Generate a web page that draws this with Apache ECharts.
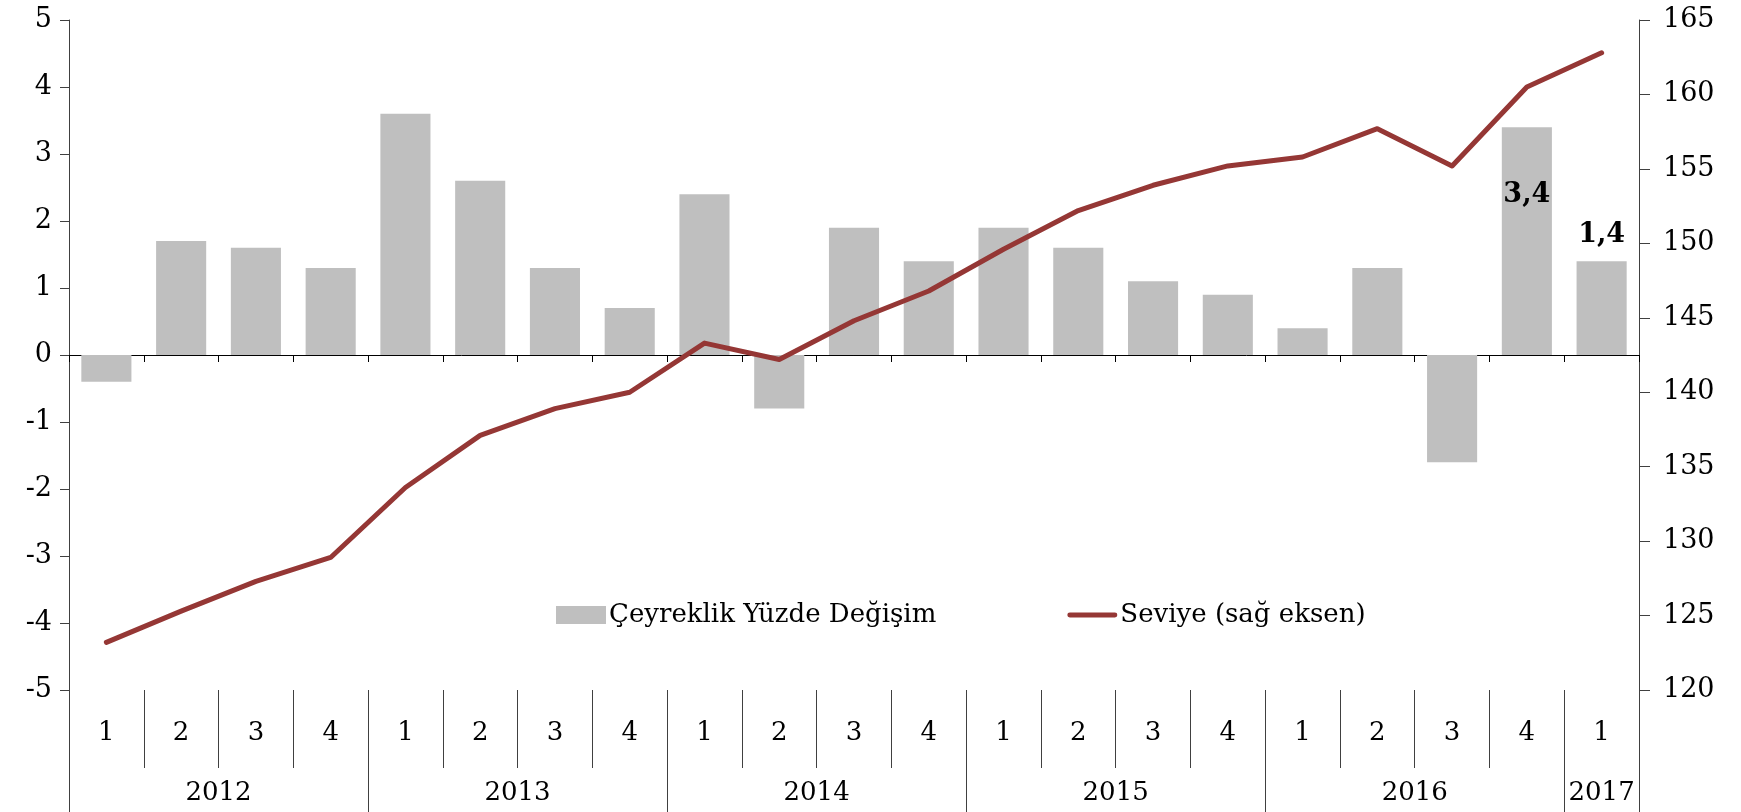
<!DOCTYPE html>
<html>
<head>
<meta charset="utf-8">
<script src="https://cdn.jsdelivr.net/npm/echarts@6/dist/echarts.min.js"></script>
<style>
  html, body { margin: 0; padding: 0; background: #fff; }
  #chart { width: 1741px; height: 812px; }
</style>
</head>
<body>
<div id="chart"></div>
<script>
// çeyrekler ve yıllar
var quarters = ["1", "2", "3", "4", "1", "2", "3", "4", "1", "2", "3", "4",
  "1", "2", "3", "4", "1", "2", "3", "4", "1"];
var years = ["2012", "2013", "2014", "2015", "2016", "2017"];
var quartersPerYear = [4, 4, 4, 4, 4, 1];

// Çeyreklik yüzde değişim (sol eksen)
var degisim = [-0.4, 1.7, 1.6, 1.3, 3.6, 2.6, 1.3, 0.7, 2.4, -0.8, 1.9,
  1.4, 1.9, 1.6, 1.1, 0.9, 0.4, 1.3, -1.6, 3.4, 1.4];
// Seviye (sağ eksen)
var seviye = [123.2, 125.3, 127.3, 128.9, 133.6, 137.1, 138.9, 140.0, 143.3,
  142.2, 144.8, 146.8, 149.6, 152.2, 153.9, 155.2, 155.8, 157.7, 155.2,
  160.5, 162.8];

var leftTicks = { min: -5, max: 5, interval: 1 };
var rightTicks = { min: 120, max: 165, interval: 5 };

// yıl sınırları ve ortaları
var yearBounds = [0];
var yearCenters = [];
var centerToYear = {};
for (var i = 0; i < years.length; i++) {
  var start = yearBounds[yearBounds.length - 1];
  var c = start + quartersPerYear[i] / 2;
  yearCenters.push(c);
  centerToYear[c] = years[i];
  yearBounds.push(start + quartersPerYear[i]);
}

var FONT = "DejaVu Serif";
var AXIS_COLOR = "#404040";
var LINE_COLOR = "#953735";
var n = quarters.length;

// sadece son iki değerde etiket var
var barData = degisim.map(function (v, idx) {
  if (idx === n - 2) {
    return { value: v, label: { show: true, position: "insideTop", distance: 54 } };
  }
  if (idx === n - 1) {
    return { value: v, label: { show: true, position: "top", distance: 13 } };
  }
  return v;
});

var chart = echarts.init(document.getElementById("chart"));
var option = {
  animation: false,
  backgroundColor: "#fff",
  textStyle: { fontFamily: FONT, color: "#000" },
  grid: { left: 69, right: 102, top: 20, bottom: 122, containLabel: false },
  legend: {
    left: 551,
    top: 597,
    itemWidth: 50,
    itemHeight: 18,
    itemGap: 131,
    textStyle: { fontFamily: FONT, fontSize: 26, color: "#000", padding: [0, 0, 0, -2] },
    data: [
      { name: "Çeyreklik Yüzde Değişim", icon: "rect" },
      { name: "Seviye (sağ eksen)", icon: "path://M2,0 L48,0 A2.5,2.5 0 0 1 48,5 L2,5 A2.5,2.5 0 0 1 2,0 Z" }
    ]
  },
  xAxis: [
    {
      type: "category",
      data: quarters,
      axisLine: { onZero: true, lineStyle: { color: "#000", width: 1 } },
      axisTick: { show: true, length: 7, lineStyle: { color: "#000" } },
      axisLabel: { show: false },
      splitLine: { show: false }
    },
    {
      type: "category",
      data: quarters,
      position: "bottom",
      axisLine: { show: false, onZero: false },
      axisTick: { show: true, length: 78, lineStyle: { color: AXIS_COLOR } },
      axisLabel: { show: true, margin: 30, fontFamily: FONT, fontSize: 26, color: "#000" },
      splitLine: { show: false }
    },
    {
      type: "value",
      min: 0,
      max: n,
      position: "bottom",
      axisLine: { show: false, onZero: false },
      axisTick: { show: true, length: 122, customValues: yearBounds, lineStyle: { color: AXIS_COLOR } },
      axisLabel: {
        show: true,
        margin: 90,
        fontFamily: FONT,
        fontSize: 26,
        color: "#000",
        customValues: yearCenters,
        formatter: function (v) { return centerToYear[v] || ""; }
      },
      splitLine: { show: false }
    }
  ],
  yAxis: [
    {
      type: "value",
      position: "left",
      min: leftTicks.min,
      max: leftTicks.max,
      interval: leftTicks.interval,
      axisLine: { show: true, lineStyle: { color: AXIS_COLOR } },
      axisTick: { show: true, length: 9, lineStyle: { color: AXIS_COLOR } },
      axisLabel: { margin: 17, fontFamily: FONT, fontSize: 27, color: "#000" },
      splitLine: { show: false }
    },
    {
      type: "value",
      position: "right",
      min: rightTicks.min,
      max: rightTicks.max,
      interval: rightTicks.interval,
      axisLine: { show: true, lineStyle: { color: AXIS_COLOR } },
      axisTick: { show: true, length: 11, lineStyle: { color: AXIS_COLOR } },
      axisLabel: { margin: 24, fontFamily: FONT, fontSize: 27, color: "#000" },
      splitLine: { show: false }
    }
  ],
  series: [
    {
      name: "Çeyreklik Yüzde Değişim",
      type: "bar",
      xAxisIndex: 0,
      yAxisIndex: 0,
      barWidth: "67%",
      itemStyle: { color: "#BFBFBF" },
      label: {
        show: false,
        fontFamily: FONT,
        fontSize: 27,
        fontWeight: "bold",
        color: "#000",
        formatter: function (p) { return String(p.value).replace(".", ","); }
      },
      data: barData
    },
    {
      name: "Seviye (sağ eksen)",
      type: "line",
      xAxisIndex: 0,
      yAxisIndex: 1,
      symbol: "none",
      z: 5,
      lineStyle: { color: LINE_COLOR, width: 5, cap: "round", join: "round" },
      itemStyle: { color: LINE_COLOR },
      data: seviye
    }
  ]
};
chart.setOption(option);
</script>
</body>
</html>
